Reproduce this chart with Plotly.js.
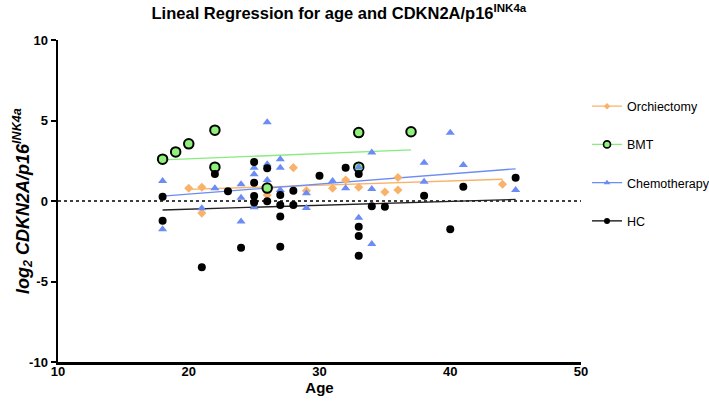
<!DOCTYPE html>
<html>
<head>
<meta charset="utf-8">
<script src="https://cdn.plot.ly/plotly-3.0.1.min.js"></script>
<style>
  body { margin: 0; background: #fff; }
  #graph { width: 709px; height: 406px; }
</style>
</head>
<body>
<div id="graph"></div>
<script>
// points (age, log2 value)
var orchAge = [20, 21, 21, 26, 28, 29, 31, 32, 33, 35, 36, 36, 44];
var orchVal = [0.79, 0.85, -0.75, 0.37, 2.07, 0.64, 0.79, 1.3, 0.85, 0.56, 1.46, 0.68, 1.04];

var bmtAge = [18, 19, 20, 22, 22, 26, 33, 33, 37];
var bmtVal = [2.6, 3.05, 3.55, 4.4, 2.1, 0.8, 4.25, 2.1, 4.3];

var chemoAge = [18, 18, 21, 22, 24, 24, 24, 25, 25, 25, 26, 26, 26, 27, 27, 27, 29, 29, 31, 32, 33, 33, 34, 34, 34, 38, 38, 40, 41, 45];
var chemoVal = [1.24, -1.75, -0.45, 0.79, 1.04, 0.2, -1.28, 2.07, 1.66, -0.39, 4.89, 2.28, 1.3, 2.59, 2.07, 0.68, 0.48, -0.43, 1.24, 0.79, 2.1, -1.04, 3.02, 0.75, -2.67, 2.38, 1.2, 4.24, 2.24, 0.68];

var hcAge = [18, 18, 21, 22, 23, 24, 25, 25, 25, 25, 26, 26, 27, 27, 27, 27, 28, 28, 30, 32, 33, 33, 33, 33, 34, 35, 38, 40, 41, 45];
var hcVal = [0.27, -1.22, -4.12, 1.68, 0.61, -2.9, 2.42, 1.14, 0.31, -0.1, 2.03, -0.02, 0.37, -0.25, -0.97, -2.84, 0.64, -0.25, 1.57, 2.07, 1.68, -1.6, -2.17, -3.4, -0.32, -0.35, 0.33, -1.75, 0.89, 1.45];

// regression lines, end points
var orchFitX = [20, 44];
var orchFitY = [0.72, 1.35];
var bmtFitX = [18, 37];
var bmtFitY = [2.55, 3.17];
var chemoFitX = [18, 45];
var chemoFitY = [0.3, 2.0];
var hcFitX = [18, 45];
var hcFitY = [-0.56, 0.1];

var cOrch = '#f9b26a';
var cBmtFill = '#8ff07a';
var cBmtLine = '#86ec7e';
var cChemo = '#6a8cf4';
var cHc = '#000000';

var F = '"Liberation Sans", Arial, Helvetica, sans-serif';

function fit(x, y, color) {
  return { x: x, y: y, type: 'scatter', mode: 'lines', showlegend: false, hoverinfo: 'skip',
    line: { color: color, width: 1.3 } };
}
function legendItem(name, color, marker) {
  return { x: [null], y: [null], type: 'scatter', mode: 'lines+markers', name: name,
    legendgroup: name, line: { color: color, width: 1.3 }, marker: marker };
}

var orchMarker = { symbol: 'diamond', size: 7, color: cOrch };
var bmtMarker = { symbol: 'circle', size: 9.5, color: cBmtFill, line: { color: '#000', width: 2 } };
var chemoMarker = { symbol: 'triangle-up', size: 8, color: cChemo };
var hcMarker = { symbol: 'circle', size: 8, color: cHc };

var traces = [
  { x: [10, 50], y: [0, 0], type: 'scatter', mode: 'lines', showlegend: false, hoverinfo: 'skip',
    line: { color: '#000', width: 1.6, dash: 'dot' } },
  fit(orchFitX, orchFitY, cOrch),
  fit(bmtFitX, bmtFitY, cBmtLine),
  fit(chemoFitX, chemoFitY, cChemo),
  fit(hcFitX, hcFitY, '#222'),
  { x: orchAge, y: orchVal, type: 'scatter', mode: 'markers', showlegend: false, marker: orchMarker },
  { x: bmtAge, y: bmtVal, type: 'scatter', mode: 'markers', showlegend: false, marker: bmtMarker },
  { x: chemoAge, y: chemoVal, type: 'scatter', mode: 'markers', showlegend: false, marker: chemoMarker },
  { x: hcAge, y: hcVal, type: 'scatter', mode: 'markers', showlegend: false, marker: hcMarker },
  legendItem('Orchiectomy', cOrch, { symbol: 'diamond', size: 5, color: cOrch }),
  legendItem('BMT', cBmtLine, { symbol: 'circle', size: 7, color: cBmtFill, line: { color: '#000', width: 1.6 } }),
  legendItem('Chemotherapy', cChemo, { symbol: 'triangle-up', size: 6, color: cChemo }),
  legendItem('HC', '#000', { symbol: 'circle', size: 6, color: '#000' })
];

var layout = {
  width: 709,
  height: 406,
  paper_bgcolor: '#fff',
  plot_bgcolor: '#fff',
  margin: { l: 58, r: 128, t: 40, b: 44, autoexpand: false },
  font: { family: F, color: '#000', size: 12 },
  title: {
    text: '<b>Lineal Regression for age and CDKN2A/p16<sup>INK4a</sup></b>',
    font: { family: F, size: 16.5, color: '#000' },
    xref: 'container', x: 0.478, xanchor: 'center',
    yref: 'container', y: 0.968, yanchor: 'middle'
  },
  xaxis: {
    range: [10, 50],
    tickvals: [10, 20, 30, 40, 50],
    ticks: '',
    ticklabelstandoff: -4,
    showgrid: false,
    zeroline: false,
    showline: true,
    linecolor: '#000',
    linewidth: 2.5,
    automargin: false,
    tickfont: { family: F, size: 13, color: '#000', weight: 'bold' },
    title: { text: '<b>Age</b>', font: { family: F, size: 15, color: '#000' }, standoff: 4 }
  },
  yaxis: {
    range: [-10, 10],
    tickvals: [-10, -5, 0, 5, 10],
    ticktext: ['-10', '-5', '0', '5', '10'],
    ticks: 'outside',
    ticklen: 5,
    tickwidth: 2,
    tickcolor: '#000',
    showgrid: false,
    zeroline: false,
    showline: true,
    linecolor: '#000',
    linewidth: 2.5,
    automargin: false,
    tickfont: { family: F, size: 13, color: '#000', weight: 'bold' }
  },
  annotations: [{
    text: '<b><i>log<sub>2</sub> CDKN2A/p16<sup>INK4a</sup></i></b>',
    xref: 'paper', yref: 'paper',
    x: (22 - 58) / 523, y: 0.5,
    xanchor: 'center', yanchor: 'middle',
    textangle: -90,
    showarrow: false,
    font: { family: F, size: 18, color: '#000' }
  }],
  showlegend: true,
  legend: {
    x: 1.0115, xanchor: 'left',
    y: 0.84, yanchor: 'top',
    font: { family: F, size: 12.5, color: '#000' },
    tracegroupgap: 19,
    traceorder: 'grouped',
    bgcolor: 'rgba(0,0,0,0)'
  }
};

Plotly.newPlot('graph', traces, layout, { displayModeBar: false, staticPlot: true });
</script>
</body>
</html>
